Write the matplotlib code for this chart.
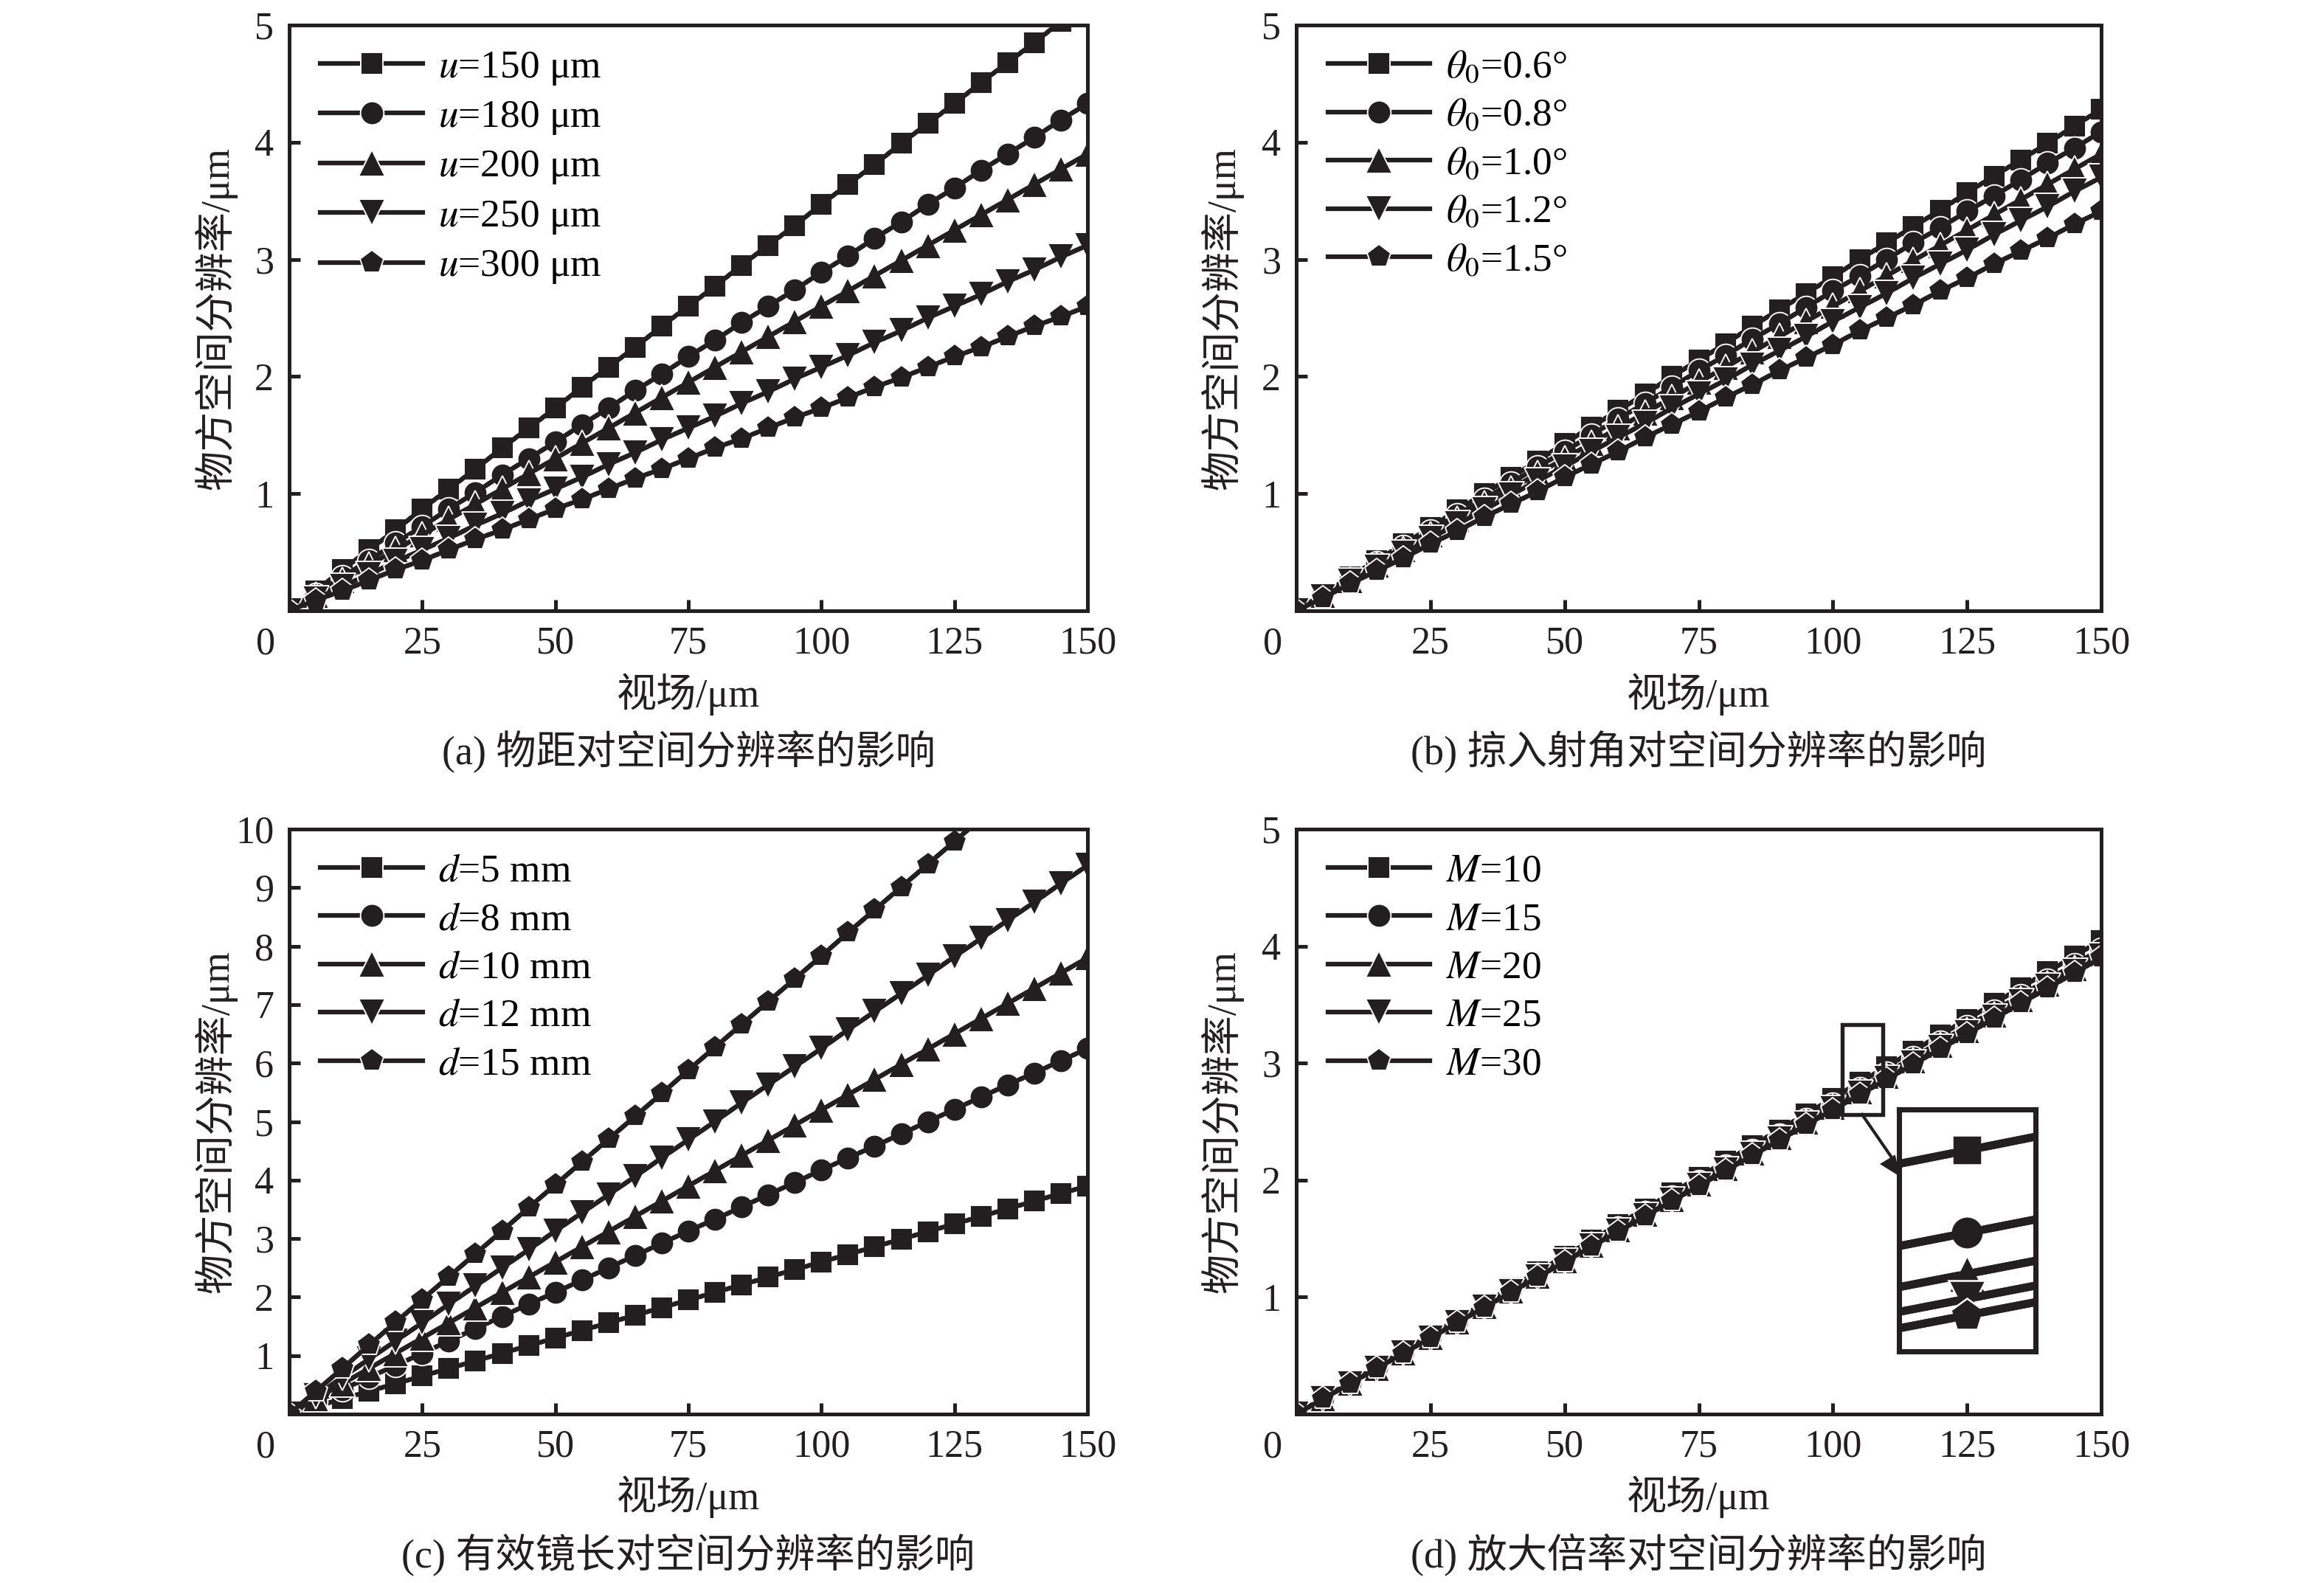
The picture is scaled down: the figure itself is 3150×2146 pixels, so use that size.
import matplotlib
matplotlib.use("Agg")
import matplotlib.pyplot as plt
from matplotlib.patches import Rectangle, Polygon
from matplotlib.lines import Line2D

plt.rcParams['font.family'] = ['Liberation Serif', 'Noto Sans CJK SC']
plt.rcParams['mathtext.fontset'] = 'stix'

INK = '#231f20'
field = list(range(0, 151, 5))   # 视场 / um, one marker every 5 um

# (a) object distance u
u150 = [0, 0.17, 0.35, 0.52, 0.69, 0.87, 1.04, 1.21, 1.39, 1.56, 1.73, 1.91, 2.08, 2.25, 2.43, 2.60,
        2.77, 2.95, 3.12, 3.29, 3.47, 3.64, 3.81, 3.99, 4.16, 4.33, 4.51, 4.68, 4.85, 5.03, 5.20]
u180 = [0, 0.14, 0.29, 0.43, 0.58, 0.72, 0.87, 1.01, 1.16, 1.30, 1.44, 1.59, 1.73, 1.88, 2.02, 2.17,
        2.31, 2.46, 2.60, 2.74, 2.89, 3.03, 3.18, 3.32, 3.47, 3.61, 3.76, 3.90, 4.04, 4.19, 4.33]
u200 = [0, 0.13, 0.26, 0.39, 0.52, 0.65, 0.78, 0.91, 1.04, 1.17, 1.30, 1.43, 1.56, 1.69, 1.82, 1.95,
        2.08, 2.21, 2.34, 2.47, 2.60, 2.73, 2.86, 2.99, 3.12, 3.25, 3.38, 3.51, 3.64, 3.77, 3.90]
u250 = [0, 0.10, 0.21, 0.31, 0.42, 0.52, 0.62, 0.73, 0.83, 0.94, 1.04, 1.14, 1.25, 1.35, 1.46, 1.56,
        1.66, 1.77, 1.87, 1.98, 2.08, 2.18, 2.29, 2.39, 2.50, 2.60, 2.70, 2.81, 2.91, 3.02, 3.12]
u300 = [0, 0.09, 0.17, 0.26, 0.35, 0.43, 0.52, 0.61, 0.69, 0.78, 0.87, 0.95, 1.04, 1.13, 1.21, 1.30,
        1.39, 1.47, 1.56, 1.65, 1.73, 1.82, 1.91, 1.99, 2.08, 2.17, 2.25, 2.34, 2.43, 2.51, 2.60]
labels_a = ['$u$=150 μm', '$u$=180 μm', '$u$=200 μm', '$u$=250 μm', '$u$=300 μm']

# (b) grazing angle theta0
t06 = [0, 0.14, 0.29, 0.43, 0.57, 0.71, 0.86, 1.00, 1.14, 1.28, 1.43, 1.57, 1.71, 1.85, 2.00, 2.14,
       2.28, 2.43, 2.57, 2.71, 2.85, 3.00, 3.14, 3.28, 3.42, 3.57, 3.71, 3.85, 3.99, 4.14, 4.28]
t08 = [0, 0.14, 0.27, 0.41, 0.55, 0.68, 0.82, 0.95, 1.09, 1.23, 1.36, 1.50, 1.64, 1.77, 1.91, 2.05,
       2.18, 2.32, 2.45, 2.59, 2.73, 2.86, 3.00, 3.14, 3.27, 3.41, 3.54, 3.68, 3.82, 3.95, 4.09]
t10 = [0, 0.13, 0.26, 0.39, 0.52, 0.65, 0.78, 0.91, 1.04, 1.17, 1.30, 1.43, 1.56, 1.69, 1.82, 1.95,
       2.08, 2.21, 2.34, 2.47, 2.60, 2.73, 2.86, 2.99, 3.12, 3.25, 3.38, 3.51, 3.64, 3.77, 3.90]
t12 = [0, 0.12, 0.25, 0.37, 0.49, 0.62, 0.74, 0.86, 0.99, 1.11, 1.23, 1.36, 1.48, 1.60, 1.73, 1.85,
       1.97, 2.10, 2.22, 2.34, 2.47, 2.59, 2.71, 2.84, 2.96, 3.08, 3.21, 3.33, 3.45, 3.58, 3.70]
t15 = [0, 0.11, 0.23, 0.34, 0.45, 0.57, 0.68, 0.80, 0.91, 1.02, 1.14, 1.25, 1.36, 1.48, 1.59, 1.70,
       1.82, 1.93, 2.05, 2.16, 2.27, 2.39, 2.50, 2.61, 2.73, 2.84, 2.96, 3.07, 3.18, 3.30, 3.41]
labels_b = [r'$\theta_0$=0.6°', r'$\theta_0$=0.8°', r'$\theta_0$=1.0°', r'$\theta_0$=1.2°', r'$\theta_0$=1.5°']

# (c) effective mirror length d
d5 = [0, 0.13, 0.26, 0.39, 0.52, 0.65, 0.78, 0.91, 1.04, 1.17, 1.30, 1.43, 1.56, 1.69, 1.82, 1.95,
      2.08, 2.21, 2.34, 2.47, 2.60, 2.73, 2.86, 2.99, 3.12, 3.25, 3.38, 3.51, 3.64, 3.77, 3.90]
d8 = [0, 0.21, 0.42, 0.63, 0.83, 1.04, 1.25, 1.46, 1.67, 1.88, 2.08, 2.29, 2.50, 2.71, 2.92, 3.13,
      3.33, 3.54, 3.75, 3.96, 4.17, 4.38, 4.58, 4.79, 5.00, 5.21, 5.42, 5.63, 5.83, 6.04, 6.25]
d10 = [0, 0.26, 0.52, 0.78, 1.04, 1.30, 1.56, 1.82, 2.08, 2.34, 2.60, 2.86, 3.12, 3.38, 3.64, 3.90,
       4.16, 4.42, 4.68, 4.94, 5.20, 5.46, 5.72, 5.98, 6.24, 6.50, 6.76, 7.02, 7.28, 7.54, 7.80]
d12 = [0, 0.31, 0.63, 0.94, 1.25, 1.56, 1.88, 2.19, 2.50, 2.81, 3.13, 3.44, 3.75, 4.06, 4.38, 4.69,
       5.00, 5.32, 5.63, 5.94, 6.25, 6.57, 6.88, 7.19, 7.50, 7.82, 8.13, 8.44, 8.75, 9.07, 9.38]
d15 = [0, 0.39, 0.78, 1.18, 1.57, 1.96, 2.35, 2.74, 3.13, 3.53, 3.92, 4.31, 4.70, 5.09, 5.48, 5.88,
       6.27, 6.66, 7.05, 7.44, 7.83, 8.23, 8.62, 9.01, 9.40, 9.79, 10.18, 10.58, 10.97, 11.36, 11.75]
labels_c = ['$d$=5 mm', '$d$=8 mm', '$d$=10 mm', '$d$=12 mm', '$d$=15 mm']

# (d) magnification M
m10 = [0, 0.135, 0.27, 0.405, 0.54, 0.675, 0.81, 0.945, 1.08, 1.215, 1.35, 1.485, 1.62, 1.755, 1.89,
       2.025, 2.16, 2.295, 2.43, 2.565, 2.70, 2.835, 2.97, 3.105, 3.24, 3.375, 3.51, 3.645, 3.78, 3.915, 4.05]
m15 = [0, 0.1325, 0.265, 0.3975, 0.53, 0.6625, 0.795, 0.9275, 1.06, 1.1925, 1.325, 1.4575, 1.59, 1.7225,
       1.855, 1.9875, 2.12, 2.2525, 2.385, 2.5175, 2.65, 2.7825, 2.915, 3.0475, 3.18, 3.3125, 3.445,
       3.5775, 3.71, 3.8425, 3.975]
m20 = [0, 0.1313, 0.2625, 0.3938, 0.525, 0.6563, 0.7875, 0.9188, 1.05, 1.1813, 1.3125, 1.4438, 1.575,
       1.7063, 1.8375, 1.9688, 2.10, 2.2313, 2.3625, 2.4938, 2.625, 2.7563, 2.8875, 3.0188, 3.15, 3.2813,
       3.4125, 3.5438, 3.675, 3.8063, 3.9375]
m25 = [0, 0.1305, 0.261, 0.3915, 0.522, 0.6525, 0.783, 0.9135, 1.044, 1.1745, 1.305, 1.4355, 1.566,
       1.6965, 1.827, 1.9575, 2.088, 2.2185, 2.349, 2.4795, 2.61, 2.7405, 2.871, 3.0015, 3.132, 3.2625,
       3.393, 3.5235, 3.654, 3.7845, 3.915]
m30 = [0, 0.13, 0.26, 0.39, 0.52, 0.65, 0.78, 0.91, 1.04, 1.17, 1.30, 1.43, 1.56, 1.69, 1.82, 1.95,
       2.08, 2.21, 2.34, 2.47, 2.60, 2.73, 2.86, 2.99, 3.12, 3.25, 3.38, 3.51, 3.64, 3.77, 3.90]
labels_d = ['$M$=10', '$M$=15', '$M$=20', '$M$=25', '$M$=30']

captions = ['(a) 物距对空间分辨率的影响', '(b) 掠入射角对空间分辨率的影响',
            '(c) 有效镜长对空间分辨率的影响', '(d) 放大倍率对空间分辨率的影响']
markers = ['s', 'o', '^', 'v', 'p']
msizes = [7.0, 7.6, 8.6, 8.6, 8.0]

W, H = 3150, 2146
fig = plt.figure(figsize=(W / 300, H / 300), dpi=300)

def box(x0, y0, x1, y1):
    # pixel box (top-left origin) -> figure fraction rect
    return [x0 / W, 1 - y1 / H, (x1 - x0) / W, (y1 - y0) / H]

def draw(ax, ys, mk, ms, lw, mew, lab=None):
    # markers with a thin white rim, then the series' own line laid over them
    ax.plot(field, ys, color=INK, lw=lw, marker=mk, ms=ms, mfc=INK, mec='white', mew=mew, label=lab)
    ax.plot(field, ys, color=INK, lw=lw)

panels = [(box(392, 34, 1474, 828), [u150, u180, u200, u250, u300], labels_a, 5),
          (box(1757, 34, 2848, 828), [t06, t08, t10, t12, t15], labels_b, 5),
          (box(392, 1124, 1474, 1917), [d5, d8, d10, d12, d15], labels_c, 10),
          (box(1757, 1124, 2848, 1917), [m10, m15, m20, m25, m30], labels_d, 5)]

axes = []
for (rect, series, labels, ymax), cap in zip(panels, captions):
    ax = fig.add_axes(rect)
    for ys, lab, mk, ms in zip(series, labels, markers, msizes):
        draw(ax, ys, mk, ms, 1.5, 0.45, lab)
    ax.set_xlim(0, 150); ax.set_ylim(0, ymax)
    ax.set_xticks([25, 50, 75, 100, 125, 150])
    ax.set_yticks(range(1, ymax + 1))
    ax.tick_params(direction='in', length=3.6, width=1.2, labelsize=12.5, pad=5, colors=INK)
    for s in ax.spines.values():
        s.set_linewidth(1.2); s.set_color(INK)
    ax.text(-0.017, -0.057, '0', transform=ax.transAxes, ha='right', va='center', fontsize=12.5, color=INK)
    ax.text(-0.092, 0.5, '物方空间分辨率/μm', transform=ax.transAxes, rotation=90,
            ha='center', va='center', fontsize=13, color=INK)
    ax.text(0.5, -0.142, '视场/μm', transform=ax.transAxes, ha='center', va='center', fontsize=13, color=INK)
    ax.text(0.5, -0.24, cap, transform=ax.transAxes, ha='center', va='center', fontsize=13, color=INK)
    ax.legend(loc='upper left', bbox_to_anchor=(0.039, 0.958), frameon=False, fontsize=12.8,
              handlelength=2.6, handletextpad=0.4, labelspacing=0.32, borderpad=0, borderaxespad=0,
              numpoints=1)
    axes.append(ax)

# zoom inset in (d)
axd = axes[3]
axd.add_patch(Rectangle((101.7, 2.56), 7.6, 0.77, fill=False, lw=1.3, ec=INK, zorder=6))
ins = fig.add_axes(box(2574, 1504, 2759, 1832))
for ys, mk, ms in zip(panels[3][1], markers, msizes):
    draw(ins, ys, mk, ms * 1.4, 2.6, 0.6)
ins.set_xlim(104.68, 105.32); ins.set_ylim(2.707, 2.861)
ins.set_xticks([]); ins.set_yticks([])
for s in ins.spines.values():
    s.set_linewidth(1.7); s.set_color(INK)

def fp(x, y):
    return (x / W, 1 - y / H)

(x0, y0), (x1, y1) = fp(2524, 1511), fp(2566, 1572)
fig.add_artist(Line2D([x0, x1], [y0, y1], transform=fig.transFigure, color=INK, lw=1.0))
fig.add_artist(Polygon([fp(2550, 1578), fp(2568, 1567), fp(2574, 1593)], closed=True,
                       transform=fig.transFigure, fc=INK, ec=INK, lw=0.5))

fig.savefig('out.png', dpi=300)
